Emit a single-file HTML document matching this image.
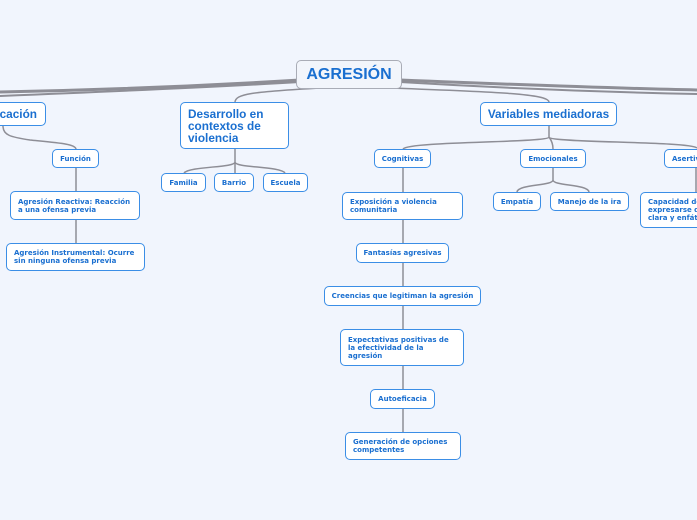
<!DOCTYPE html>
<html><head><meta charset="utf-8"><style>
body{margin:0;width:697px;height:520px;background:#f1f5fd;position:relative;overflow:hidden;font-family:"DejaVu Sans","Liberation Sans",sans-serif;}
.b{position:absolute;box-sizing:border-box;background:#fff;border:1.6px solid #3b8ee6;border-radius:5px;color:#1a6fd0;font-weight:bold;font-size:7px;line-height:8px;padding:0 7px;display:flex;align-items:center;white-space:nowrap;}
.c{justify-content:center;padding:0;}
.m{font-family:"Liberation Sans",sans-serif;font-size:11.8px;line-height:12px;font-weight:bold;}
svg{position:absolute;left:0;top:0;}
</style></head><body>
<svg width="697" height="520" fill="none" stroke="#8e8e96">
<path d="M300 80 C200 86 100 90 0 92" stroke-width="3"/>
<path d="M300 82 C200 88 100 92 0 96" stroke-width="2"/>
<path d="M400 80 C500 84 600 88 697 90" stroke-width="3"/>
<path d="M400 82 C500 88 600 92 697 94" stroke-width="2"/>
<path d="M320 88 C250 92 236 94 235 102" stroke-width="1.5"/>
<path d="M390 88 C500 92 548 94 549 102" stroke-width="1.5"/>
<g stroke-width="1.5">
<path d="M3 126 C3 135 10 137 30 140 C60 143 75 144 76 149"/>
<path d="M76 168 V191 M76 220 V243"/>
<path d="M235 149 V162 C235 168 190 166 184 173 M235 149 V173 M235 162 C235 168 280 166 285 173"/>
<path d="M549 126 V137 C549 143 410 141 403 149 M549 137 C552 141 553 145 553 149 M549 137 C549 143 690 141 697 148"/>
<path d="M403 168 V192 M403 220 V243 M403 263 V286 M403 306 V329 M403 366 V389 M403 409 V432"/>
<path d="M553 168 V180 C553 186 518 184 517 192 M553 180 C553 186 588 184 589 192"/>
<path d="M696 168 V192"/>
</g>
</svg>
<div class="b c" style="left:296px;top:60px;width:106px;height:29px;border:1.5px solid #a9acb6;background:#f2f5fb;font-family:'Liberation Sans',sans-serif;font-size:16px;line-height:16px;">AGRESIÓN</div>
<div class="b m" style="left:-20px;top:102px;width:66px;height:24px;justify-content:flex-end;padding-right:8px;">icación</div>
<div class="b c" style="left:52px;top:149px;width:47px;height:19px;">Función</div>
<div class="b" style="left:10px;top:191px;width:130px;height:29px;">Agresión Reactiva: Reacción<br>a una ofensa previa</div>
<div class="b" style="left:6px;top:243px;width:139px;height:28px;">Agresión Instrumental: Ocurre<br>sin ninguna ofensa previa</div>
<div class="b m" style="left:180px;top:102px;width:109px;height:47px;">Desarrollo en<br>contextos de<br>violencia</div>
<div class="b c" style="left:161px;top:173px;width:45px;height:19px;">Familia</div>
<div class="b c" style="left:214px;top:173px;width:40px;height:19px;">Barrio</div>
<div class="b c" style="left:263px;top:173px;width:45px;height:19px;">Escuela</div>
<div class="b m c" style="left:480px;top:102px;width:137px;height:24px;">Variables mediadoras</div>
<div class="b c" style="left:374px;top:149px;width:57px;height:19px;">Cognitivas</div>
<div class="b c" style="left:520px;top:149px;width:66px;height:19px;">Emocionales</div>
<div class="b" style="left:664px;top:149px;width:60px;height:19px;">Asertividad</div>
<div class="b" style="left:342px;top:192px;width:121px;height:28px;">Exposición a violencia<br>comunitaria</div>
<div class="b c" style="left:356px;top:243px;width:93px;height:20px;">Fantasías agresivas</div>
<div class="b c" style="left:324px;top:286px;width:157px;height:20px;">Creencias que legitiman la agresión</div>
<div class="b" style="left:340px;top:329px;width:124px;height:37px;">Expectativas positivas de<br>la efectividad de la<br>agresión</div>
<div class="b c" style="left:370px;top:389px;width:65px;height:20px;">Autoeficacia</div>
<div class="b" style="left:345px;top:432px;width:116px;height:28px;">Generación de opciones<br>competentes</div>
<div class="b c" style="left:493px;top:192px;width:48px;height:19px;">Empatía</div>
<div class="b c" style="left:550px;top:192px;width:79px;height:19px;">Manejo de la ira</div>
<div class="b" style="left:640px;top:192px;width:90px;height:36px;">Capacidad de<br>expresarse de<br>clara y enfática</div>
</body></html>
